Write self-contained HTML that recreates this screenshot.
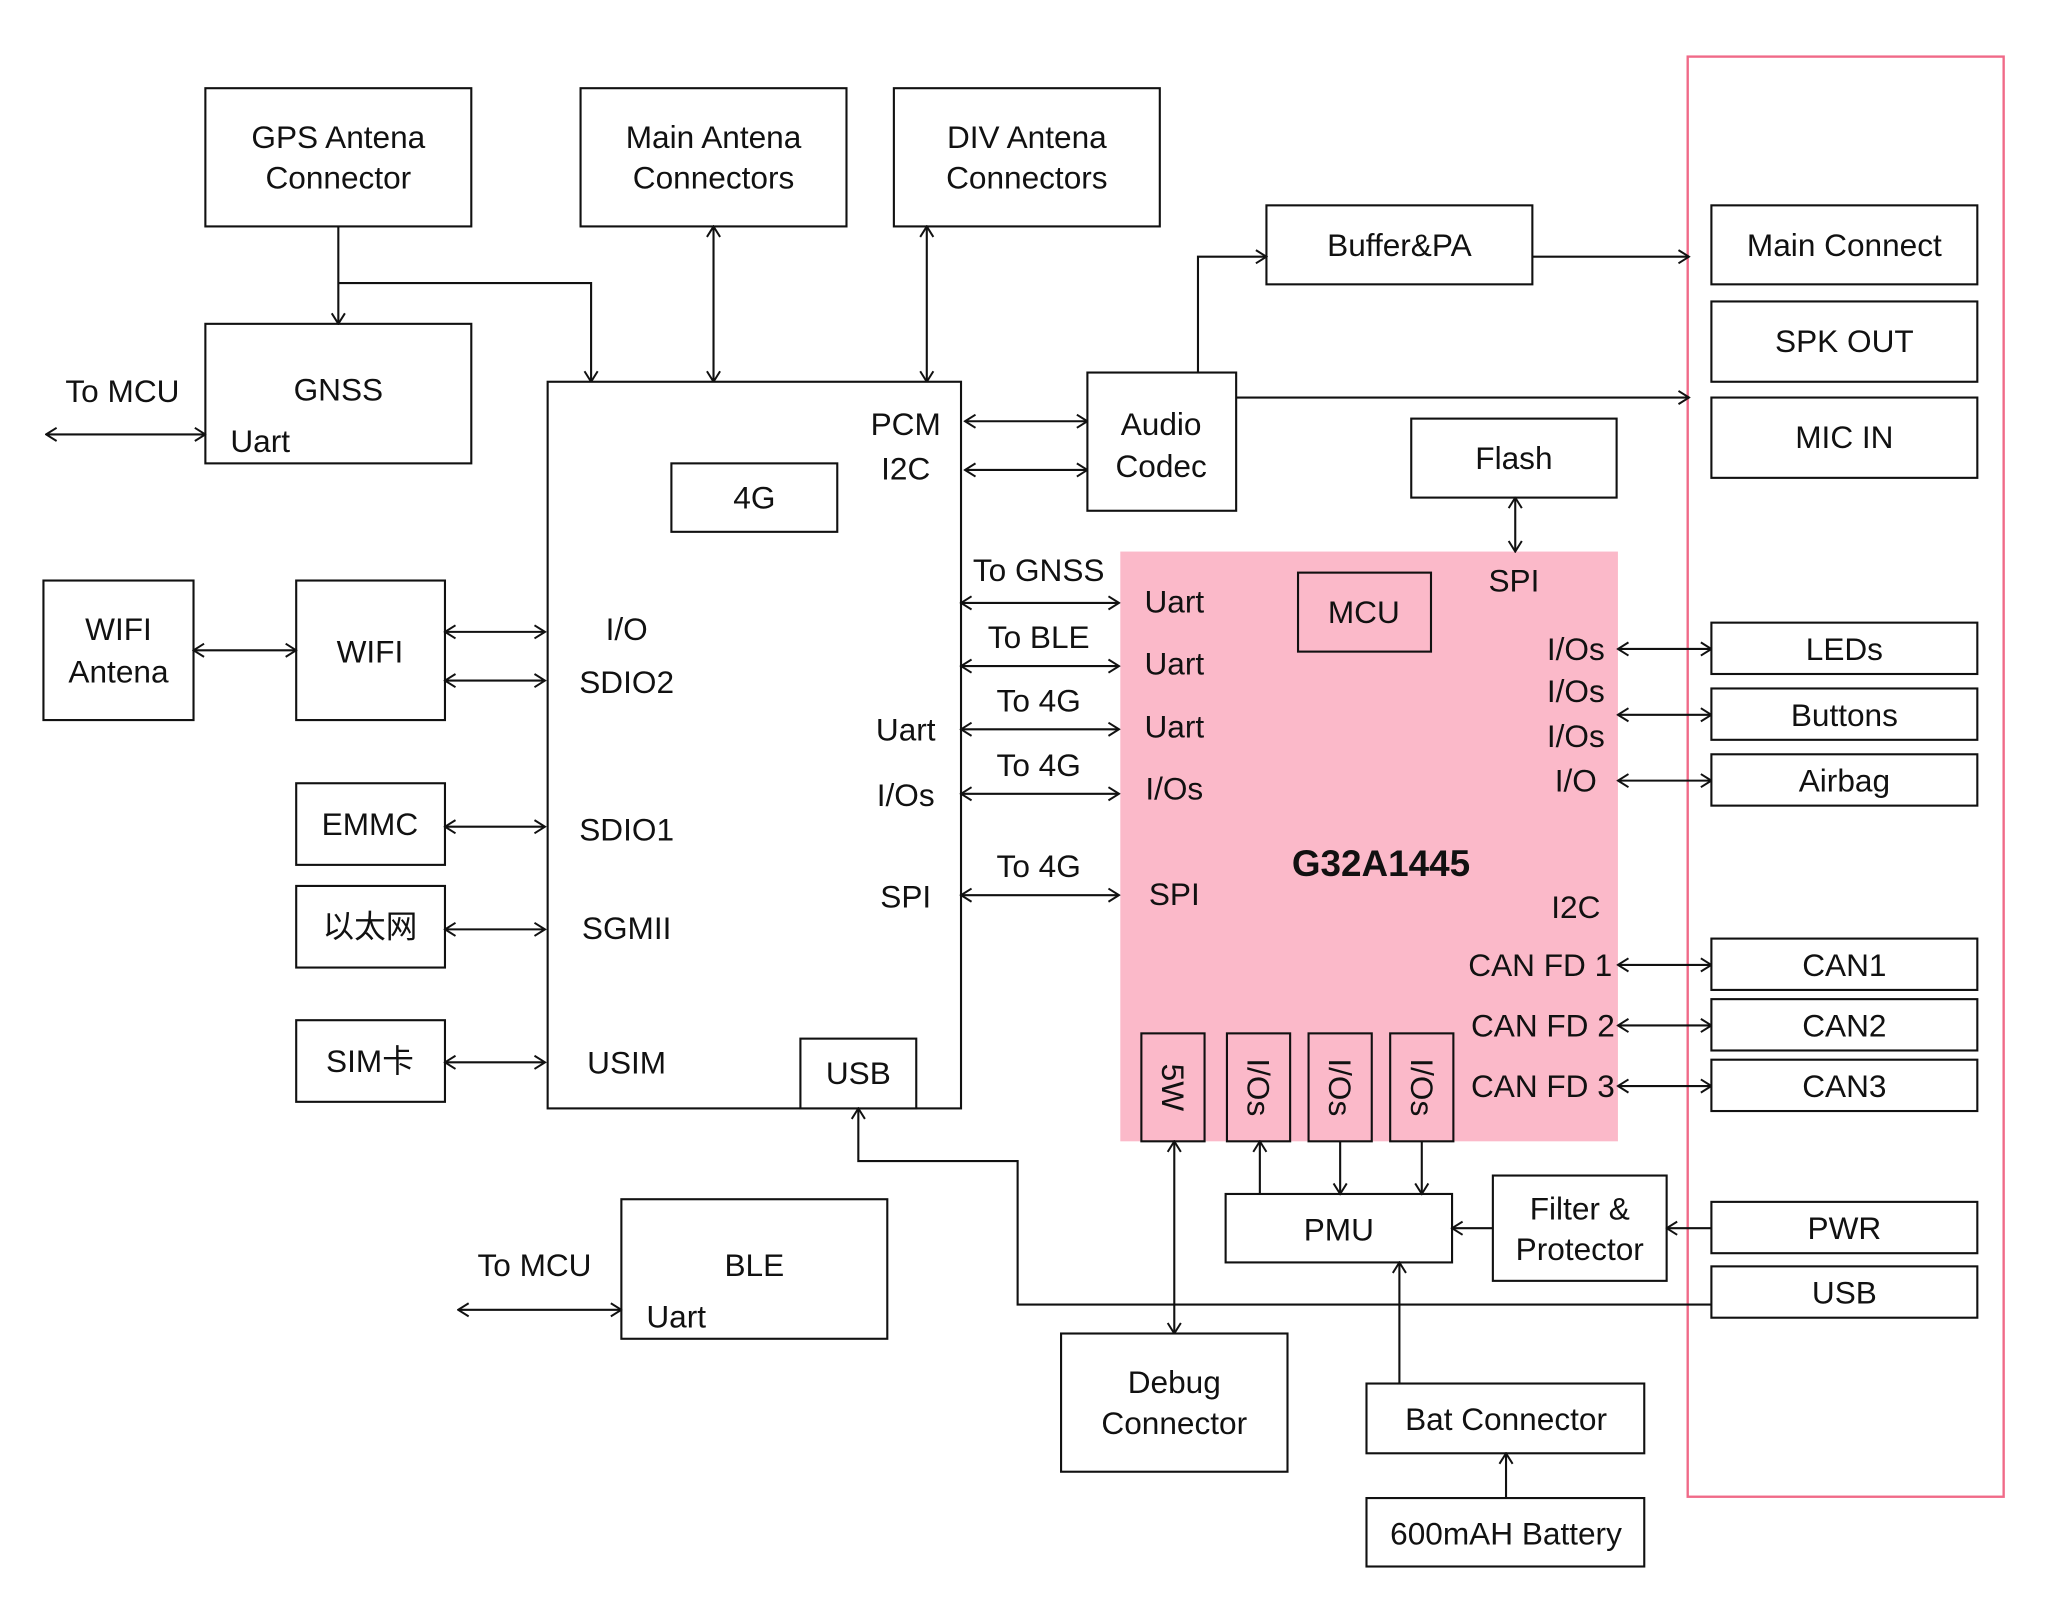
<!DOCTYPE html>
<html><head><meta charset="utf-8"><style>
html,body{margin:0;padding:0;background:#fff;}
svg{display:block;}
text{font-family:"Liberation Sans","Noto Sans CJK SC",sans-serif;font-size:24px;fill:#111;text-anchor:middle;dominant-baseline:central;}
.b{fill:#fff;stroke:#111;stroke-width:1.6;}
.p{fill:#fbb9c9;stroke:#111;stroke-width:1.6;}
.l{fill:none;stroke:#111;stroke-width:1.6;}
.a{marker-end:url(#ah);}
.d{marker-start:url(#ah);marker-end:url(#ah);}
.s{text-anchor:start;}
</style></head><body>
<svg width="2065" height="1611" viewBox="0 0 1568.6 1223.8" preserveAspectRatio="none" xmlns="http://www.w3.org/2000/svg">
<defs><marker id="ah" viewBox="0 0 12 12" refX="11" refY="6" markerWidth="12" markerHeight="12" markerUnits="userSpaceOnUse" orient="auto-start-reverse"><path d="M3,1 L11,6 L3,11" fill="none" stroke="#111" stroke-width="1.5"/></marker></defs>

<rect x="1282" y="43" width="240" height="1094" fill="none" stroke="#f06a88" stroke-width="1.8"/>
<rect x="851" y="419" width="378" height="448" fill="#fbb9c9"/>

<rect class="b" x="156" y="67" width="202" height="105"/><text x="257" y="104">GPS Antena</text><text x="257" y="135">Connector</text>
<rect class="b" x="441" y="67" width="202" height="105"/><text x="542" y="104">Main Antena</text><text x="542" y="135">Connectors</text>
<rect class="b" x="679" y="67" width="202" height="105"/><text x="780" y="104">DIV Antena</text><text x="780" y="135">Connectors</text>

<rect class="b" x="156" y="246" width="202" height="106"/><text x="257" y="296">GNSS</text><text class="s" x="175" y="335">Uart</text>
<text x="93" y="297">To MCU</text>
<line class="l d" x1="35" y1="330" x2="156" y2="330"/>

<line class="l a" x1="257" y1="172" x2="257" y2="246"/>
<polyline class="l a" points="257,215 449,215 449,290"/>
<line class="l d" x1="542" y1="172" x2="542" y2="290"/>
<line class="l d" x1="704" y1="172" x2="704" y2="290"/>

<rect class="b" x="416" y="290" width="314" height="552"/>
<rect class="b" x="510" y="352" width="126" height="52"/><text x="573" y="378">4G</text>
<text x="688" y="322">PCM</text><text x="688" y="356">I2C</text>
<text x="476" y="478">I/O</text><text x="476" y="518">SDIO2</text>
<text x="476" y="630">SDIO1</text><text x="476" y="705">SGMII</text><text x="476" y="807">USIM</text>
<text x="688" y="554">Uart</text><text x="688" y="604">I/Os</text><text x="688" y="681">SPI</text>
<rect class="b" x="608" y="789" width="88" height="53"/><text x="652" y="815">USB</text>

<line class="l d" x1="733" y1="320" x2="826" y2="320"/>
<line class="l d" x1="733" y1="357" x2="826" y2="357"/>

<rect class="b" x="826" y="283" width="113" height="105"/><text x="882" y="322">Audio</text><text x="882" y="354">Codec</text>
<rect class="b" x="962" y="156" width="202" height="60"/><text x="1063" y="186">Buffer&amp;PA</text>
<polyline class="l a" points="910,283 910,195 962,195"/>
<line class="l a" x1="1164" y1="195" x2="1283" y2="195"/>
<line class="l a" x1="939" y1="302" x2="1283" y2="302"/>

<rect class="b" x="1300" y="156" width="202" height="60"/><text x="1401" y="186">Main Connect</text>
<rect class="b" x="1300" y="229" width="202" height="61"/><text x="1401" y="259">SPK OUT</text>
<rect class="b" x="1300" y="302" width="202" height="61"/><text x="1401" y="332">MIC IN</text>

<rect class="b" x="1072" y="318" width="156" height="60"/><text x="1150" y="348">Flash</text>
<line class="l d" x1="1151" y1="378" x2="1151" y2="419"/>

<rect class="b" x="33" y="441" width="114" height="106"/><text x="90" y="478">WIFI</text><text x="90" y="510">Antena</text>
<rect class="b" x="225" y="441" width="113" height="106"/><text x="281" y="495">WIFI</text>
<line class="l d" x1="147" y1="494" x2="225" y2="494"/>
<line class="l d" x1="338" y1="480" x2="414" y2="480"/>
<line class="l d" x1="338" y1="517" x2="414" y2="517"/>
<rect class="b" x="225" y="595" width="113" height="62"/><text x="281" y="626">EMMC</text>
<line class="l d" x1="338" y1="628" x2="414" y2="628"/>
<rect class="b" x="225" y="673" width="113" height="62"/><text x="281" y="704">以太网</text>
<line class="l d" x1="338" y1="706" x2="414" y2="706"/>
<rect class="b" x="225" y="775" width="113" height="62"/><text x="281" y="806">SIM卡</text>
<line class="l d" x1="338" y1="807" x2="414" y2="807"/>

<rect class="b" x="472" y="911" width="202" height="106"/><text x="573" y="961">BLE</text><text class="s" x="491" y="1000">Uart</text>
<text x="406" y="961">To MCU</text>
<line class="l d" x1="348" y1="995" x2="472" y2="995"/>

<text x="789" y="433">To GNSS</text><text x="789" y="484">To BLE</text><text x="789" y="532">To 4G</text><text x="789" y="581">To 4G</text><text x="789" y="658">To 4G</text>
<line class="l d" x1="730" y1="458" x2="850" y2="458"/>
<line class="l d" x1="730" y1="506" x2="850" y2="506"/>
<line class="l d" x1="730" y1="554" x2="850" y2="554"/>
<line class="l d" x1="730" y1="603" x2="850" y2="603"/>
<line class="l d" x1="730" y1="680" x2="850" y2="680"/>

<text x="892" y="457">Uart</text><text x="892" y="504">Uart</text><text x="892" y="552">Uart</text><text x="892" y="599">I/Os</text><text x="892" y="679">SPI</text>
<rect class="p" x="986" y="435" width="101" height="60"/><text x="1036" y="465">MCU</text>
<text x="1150" y="441">SPI</text>
<text x="1049" y="656" style="font-weight:bold;font-size:28px">G32A1445</text>
<text x="1197" y="493">I/Os</text><text x="1197" y="525">I/Os</text><text x="1197" y="559">I/Os</text><text x="1197" y="593">I/O</text>
<text x="1197" y="689">I2C</text>
<text x="1170" y="733">CAN FD 1</text><text x="1172" y="779">CAN FD 2</text><text x="1172" y="825">CAN FD 3</text>

<line class="l d" x1="1229" y1="493" x2="1300" y2="493"/>
<line class="l d" x1="1229" y1="543" x2="1300" y2="543"/>
<line class="l d" x1="1229" y1="593" x2="1300" y2="593"/>
<line class="l d" x1="1229" y1="733" x2="1300" y2="733"/>
<line class="l d" x1="1229" y1="779" x2="1300" y2="779"/>
<line class="l d" x1="1229" y1="825" x2="1300" y2="825"/>

<rect class="b" x="1300" y="473" width="202" height="39"/><text x="1401" y="493">LEDs</text>
<rect class="b" x="1300" y="523" width="202" height="39"/><text x="1401" y="543">Buttons</text>
<rect class="b" x="1300" y="573" width="202" height="39"/><text x="1401" y="593">Airbag</text>
<rect class="b" x="1300" y="713" width="202" height="39"/><text x="1401" y="733">CAN1</text>
<rect class="b" x="1300" y="759" width="202" height="39"/><text x="1401" y="779">CAN2</text>
<rect class="b" x="1300" y="805" width="202" height="39"/><text x="1401" y="825">CAN3</text>
<rect class="b" x="1300" y="913" width="202" height="39"/><text x="1401" y="933">PWR</text>
<rect class="b" x="1300" y="962" width="202" height="39"/><text x="1401" y="982">USB</text>

<rect class="p" x="867" y="785" width="48" height="82"/><text transform="translate(891,826) rotate(90)">5W</text>
<rect class="p" x="932" y="785" width="48" height="82"/><text transform="translate(956,826) rotate(90)">I/Os</text>
<rect class="p" x="994" y="785" width="48" height="82"/><text transform="translate(1018,826) rotate(90)">I/Os</text>
<rect class="p" x="1056" y="785" width="48" height="82"/><text transform="translate(1080,826) rotate(90)">I/Os</text>

<rect class="b" x="931" y="907" width="172" height="52"/><text x="1017" y="934">PMU</text>
<line class="l a" x1="957" y1="907" x2="957" y2="867"/>
<line class="l a" x1="1018" y1="867" x2="1018" y2="907"/>
<line class="l a" x1="1080" y1="867" x2="1080" y2="907"/>
<rect class="b" x="1134" y="893" width="132" height="80"/><text x="1200" y="918">Filter &amp;</text><text x="1200" y="949">Protector</text>
<line class="l a" x1="1134" y1="933" x2="1103" y2="933"/>
<line class="l a" x1="1300" y1="933" x2="1266" y2="933"/>

<polyline class="l a" points="1300,991 773,991 773,882 652,882 652,842"/>
<line class="l d" x1="892" y1="867" x2="892" y2="1013"/>
<rect class="b" x="806" y="1013" width="172" height="105"/><text x="892" y="1050">Debug</text><text x="892" y="1081">Connector</text>

<rect class="b" x="1038" y="1051" width="211" height="53"/><text x="1144" y="1078">Bat Connector</text>
<line class="l a" x1="1063" y1="1051" x2="1063" y2="959"/>
<rect class="b" x="1038" y="1138" width="211" height="52"/><text x="1144" y="1165">600mAH Battery</text>
<line class="l a" x1="1144" y1="1138" x2="1144" y2="1104"/>
</svg>
</body></html>
